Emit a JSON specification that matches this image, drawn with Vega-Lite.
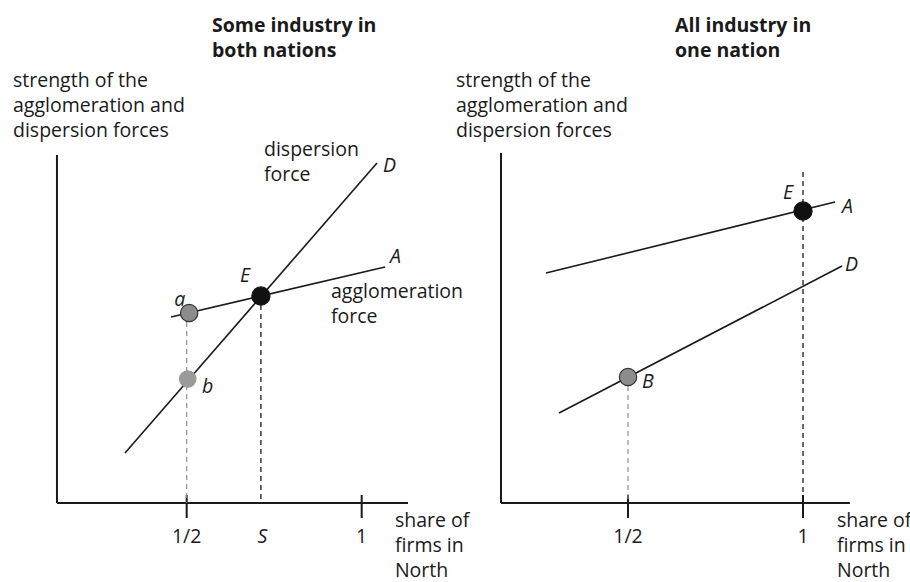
{
  "$schema": "https://vega.github.io/schema/vega-lite/v6.json",
  "padding": 0,
  "spacing": 0,
  "bounds": "flush",
  "background": "white",
  "config": {"view": {"stroke": null}, "text": {"font": "Open Sans", "fontSize": 19.5, "color": "#1a1a1a", "lineHeight": 25, "lineBreak": "\n", "baseline": "alphabetic"}},
  "datasets": {
    "L_axes": [
      {"x": 0.1294, "y": 0, "x2": 0.1294, "y2": 3.48},
      {"x": 0.1294, "y": 0, "x2": 1.1323, "y2": 0},
      {"x": 0.5, "y": 0.08, "x2": 0.5, "y2": -0.15},
      {"x": 1.0, "y": 0.08, "x2": 1.0, "y2": -0.15}
    ],
    "L_curves": [
      {"name": "D", "x": 0.3237, "y": 0.50, "x2": 1.0437, "y2": 3.40},
      {"name": "A", "x": 0.4554, "y": 1.86, "x2": 1.0666, "y2": 2.36}
    ],
    "L_dashBlack": [{"x": 0.712, "y": 2.07, "x2": 0.712, "y2": 0}],
    "L_dashGray": [{"x": 0.5, "y": 1.90, "x2": 0.5, "y2": 0}],
    "L_points": [
      {"label": "E", "role": "equilibrium", "x": 0.712, "y": 2.07},
      {"label": "a", "role": "outlined", "x": 0.507, "y": 1.90},
      {"label": "b", "role": "plain", "x": 0.503, "y": 1.24}
    ],
    "L_italic": [
      {"t": "D", "x": 1.0609, "y": 3.31},
      {"t": "A", "x": 1.0809, "y": 2.40},
      {"t": "E", "x": 0.6523, "y": 2.21},
      {"t": "a", "x": 0.4646, "y": 1.97},
      {"t": "b", "x": 0.5437, "y": 1.10},
      {"t": "S", "x": 0.702, "y": -0.40}
    ],
    "L_plain": [
      {"t": "dispersion\nforce", "x": 0.7209, "y": 3.47},
      {"t": "agglomeration\nforce", "x": 0.9123, "y": 2.05},
      {"t": "share of\nfirms in\nNorth", "x": 1.095, "y": -0.24},
      {"t": "strength of the\nagglomeration and\ndispersion forces", "x": 0.0037, "y": 4.16}
    ],
    "L_ticks": [
      {"t": "1/2", "x": 0.5, "y": -0.40},
      {"t": "1", "x": 1.0, "y": -0.40}
    ],
    "L_title": [{"t": "Some industry in\nboth nations", "x": 0.5723, "y": 4.71}],
    "R_axes": [
      {"x": 0.1371, "y": 0, "x2": 0.1371, "y2": 3.50},
      {"x": 0.1371, "y": 0, "x2": 1.134, "y2": 0},
      {"x": 0.5, "y": 0.08, "x2": 0.5, "y2": -0.15},
      {"x": 1.0, "y": 0.08, "x2": 1.0, "y2": -0.15}
    ],
    "R_curves": [
      {"name": "A", "x": 0.2657, "y": 2.30, "x2": 1.0914, "y2": 3.01},
      {"name": "D", "x": 0.3029, "y": 0.90, "x2": 1.1114, "y2": 2.37}
    ],
    "R_dashBlack": [{"x": 1.0, "y": 3.31, "x2": 1.0, "y2": 0}],
    "R_dashGray": [{"x": 0.5, "y": 1.26, "x2": 0.5, "y2": 0}],
    "R_points": [
      {"label": "E", "role": "equilibrium", "x": 1.0, "y": 2.92},
      {"label": "B", "role": "outlined", "x": 0.5, "y": 1.26}
    ],
    "R_italic": [
      {"t": "E", "x": 0.943, "y": 3.04},
      {"t": "A", "x": 1.1114, "y": 2.90},
      {"t": "D", "x": 1.12, "y": 2.32},
      {"t": "B", "x": 0.54, "y": 1.15}
    ],
    "R_plain": [
      {"t": "share of\nfirms in\nNorth", "x": 1.0971, "y": -0.24},
      {"t": "strength of the\nagglomeration and\ndispersion forces", "x": 0.0086, "y": 4.16}
    ],
    "R_ticks": [
      {"t": "1/2", "x": 0.5, "y": -0.40},
      {"t": "1", "x": 1.0, "y": -0.40}
    ],
    "R_title": [{"t": "All industry in\none nation", "x": 0.6343, "y": 4.71}]
  },
  "hconcat": [
    {
      "width": 455,
      "height": 582,
      "layer": [
        {"data": {"name": "L_axes"}, "mark": {"type": "rule", "strokeWidth": 2, "color": "#1a1a1a"},
         "encoding": {"x": {"field": "x", "type": "quantitative", "scale": {"domain": [-0.0334, 1.2666], "nice": false, "zero": false}, "axis": null},
                      "y": {"field": "y", "type": "quantitative", "scale": {"domain": [-0.79, 5.03], "nice": false, "zero": false}, "axis": null},
                      "x2": {"field": "x2"}, "y2": {"field": "y2"}}},
        {"data": {"name": "L_curves"}, "mark": {"type": "rule", "strokeWidth": 1.6, "color": "#1a1a1a"},
         "encoding": {"x": {"field": "x", "type": "quantitative", "scale": {"domain": [-0.0334, 1.2666], "nice": false, "zero": false}, "axis": null},
                      "y": {"field": "y", "type": "quantitative", "scale": {"domain": [-0.79, 5.03], "nice": false, "zero": false}, "axis": null},
                      "x2": {"field": "x2"}, "y2": {"field": "y2"}}},
        {"data": {"name": "L_dashBlack"}, "mark": {"type": "rule", "strokeWidth": 1.3, "color": "#1a1a1a", "strokeDash": [5, 4]},
         "encoding": {"x": {"field": "x", "type": "quantitative", "scale": {"domain": [-0.0334, 1.2666], "nice": false, "zero": false}, "axis": null},
                      "y": {"field": "y", "type": "quantitative", "scale": {"domain": [-0.79, 5.03], "nice": false, "zero": false}, "axis": null},
                      "x2": {"field": "x2"}, "y2": {"field": "y2"}}},
        {"data": {"name": "L_dashGray"}, "mark": {"type": "rule", "strokeWidth": 1.2, "color": "#8f8f8f", "strokeDash": [5, 4]},
         "encoding": {"x": {"field": "x", "type": "quantitative", "scale": {"domain": [-0.0334, 1.2666], "nice": false, "zero": false}, "axis": null},
                      "y": {"field": "y", "type": "quantitative", "scale": {"domain": [-0.79, 5.03], "nice": false, "zero": false}, "axis": null},
                      "x2": {"field": "x2"}, "y2": {"field": "y2"}}},
        {"data": {"name": "L_points"}, "mark": {"type": "point", "filled": true, "opacity": 1, "strokeWidth": 1.2, "strokeOpacity": 1},
         "encoding": {"x": {"field": "x", "type": "quantitative", "scale": {"domain": [-0.0334, 1.2666], "nice": false, "zero": false}, "axis": null},
                      "y": {"field": "y", "type": "quantitative", "scale": {"domain": [-0.79, 5.03], "nice": false, "zero": false}, "axis": null},
                      "fill": {"field": "role", "type": "nominal", "scale": {"domain": ["equilibrium", "outlined", "plain"], "range": ["#111111", "#8c8c8c", "#9a9a9a"]}, "legend": null},
                      "stroke": {"field": "role", "type": "nominal", "scale": {"domain": ["equilibrium", "outlined", "plain"], "range": ["#111111", "#333333", "#9a9a9a"]}, "legend": null},
                      "size": {"field": "role", "type": "nominal", "scale": {"domain": ["equilibrium", "outlined", "plain"], "range": [330, 270, 260]}, "legend": null}}},
        {"data": {"name": "L_italic"}, "mark": {"type": "text", "fontStyle": "italic", "align": "left"},
         "encoding": {"x": {"field": "x", "type": "quantitative", "scale": {"domain": [-0.0334, 1.2666], "nice": false, "zero": false}, "axis": null},
                      "y": {"field": "y", "type": "quantitative", "scale": {"domain": [-0.79, 5.03], "nice": false, "zero": false}, "axis": null},
                      "text": {"field": "t"}}},
        {"data": {"name": "L_plain"}, "mark": {"type": "text", "align": "left"},
         "encoding": {"x": {"field": "x", "type": "quantitative", "scale": {"domain": [-0.0334, 1.2666], "nice": false, "zero": false}, "axis": null},
                      "y": {"field": "y", "type": "quantitative", "scale": {"domain": [-0.79, 5.03], "nice": false, "zero": false}, "axis": null},
                      "text": {"field": "t"}}},
        {"data": {"name": "L_ticks"}, "mark": {"type": "text", "align": "center"},
         "encoding": {"x": {"field": "x", "type": "quantitative", "scale": {"domain": [-0.0334, 1.2666], "nice": false, "zero": false}, "axis": null},
                      "y": {"field": "y", "type": "quantitative", "scale": {"domain": [-0.79, 5.03], "nice": false, "zero": false}, "axis": null},
                      "text": {"field": "t"}}},
        {"data": {"name": "L_title"}, "mark": {"type": "text", "align": "left", "fontWeight": "bold"},
         "encoding": {"x": {"field": "x", "type": "quantitative", "scale": {"domain": [-0.0334, 1.2666], "nice": false, "zero": false}, "axis": null},
                      "y": {"field": "y", "type": "quantitative", "scale": {"domain": [-0.79, 5.03], "nice": false, "zero": false}, "axis": null},
                      "text": {"field": "t"}}}
      ]
    },
    {
      "width": 455,
      "height": 582,
      "layer": [
        {"data": {"name": "R_axes"}, "mark": {"type": "rule", "strokeWidth": 2, "color": "#1a1a1a"},
         "encoding": {"x": {"field": "x", "type": "quantitative", "scale": {"domain": [0.0057, 1.3057], "nice": false, "zero": false}, "axis": null},
                      "y": {"field": "y", "type": "quantitative", "scale": {"domain": [-0.79, 5.03], "nice": false, "zero": false}, "axis": null},
                      "x2": {"field": "x2"}, "y2": {"field": "y2"}}},
        {"data": {"name": "R_curves"}, "mark": {"type": "rule", "strokeWidth": 1.6, "color": "#1a1a1a"},
         "encoding": {"x": {"field": "x", "type": "quantitative", "scale": {"domain": [0.0057, 1.3057], "nice": false, "zero": false}, "axis": null},
                      "y": {"field": "y", "type": "quantitative", "scale": {"domain": [-0.79, 5.03], "nice": false, "zero": false}, "axis": null},
                      "x2": {"field": "x2"}, "y2": {"field": "y2"}}},
        {"data": {"name": "R_dashBlack"}, "mark": {"type": "rule", "strokeWidth": 1.3, "color": "#1a1a1a", "strokeDash": [5, 4]},
         "encoding": {"x": {"field": "x", "type": "quantitative", "scale": {"domain": [0.0057, 1.3057], "nice": false, "zero": false}, "axis": null},
                      "y": {"field": "y", "type": "quantitative", "scale": {"domain": [-0.79, 5.03], "nice": false, "zero": false}, "axis": null},
                      "x2": {"field": "x2"}, "y2": {"field": "y2"}}},
        {"data": {"name": "R_dashGray"}, "mark": {"type": "rule", "strokeWidth": 1.2, "color": "#8f8f8f", "strokeDash": [5, 4]},
         "encoding": {"x": {"field": "x", "type": "quantitative", "scale": {"domain": [0.0057, 1.3057], "nice": false, "zero": false}, "axis": null},
                      "y": {"field": "y", "type": "quantitative", "scale": {"domain": [-0.79, 5.03], "nice": false, "zero": false}, "axis": null},
                      "x2": {"field": "x2"}, "y2": {"field": "y2"}}},
        {"data": {"name": "R_points"}, "mark": {"type": "point", "filled": true, "opacity": 1, "strokeWidth": 1.2, "strokeOpacity": 1},
         "encoding": {"x": {"field": "x", "type": "quantitative", "scale": {"domain": [0.0057, 1.3057], "nice": false, "zero": false}, "axis": null},
                      "y": {"field": "y", "type": "quantitative", "scale": {"domain": [-0.79, 5.03], "nice": false, "zero": false}, "axis": null},
                      "fill": {"field": "role", "type": "nominal", "scale": {"domain": ["equilibrium", "outlined", "plain"], "range": ["#111111", "#8c8c8c", "#9a9a9a"]}, "legend": null},
                      "stroke": {"field": "role", "type": "nominal", "scale": {"domain": ["equilibrium", "outlined", "plain"], "range": ["#111111", "#333333", "#9a9a9a"]}, "legend": null},
                      "size": {"field": "role", "type": "nominal", "scale": {"domain": ["equilibrium", "outlined", "plain"], "range": [330, 270, 260]}, "legend": null}}},
        {"data": {"name": "R_italic"}, "mark": {"type": "text", "fontStyle": "italic", "align": "left"},
         "encoding": {"x": {"field": "x", "type": "quantitative", "scale": {"domain": [0.0057, 1.3057], "nice": false, "zero": false}, "axis": null},
                      "y": {"field": "y", "type": "quantitative", "scale": {"domain": [-0.79, 5.03], "nice": false, "zero": false}, "axis": null},
                      "text": {"field": "t"}}},
        {"data": {"name": "R_plain"}, "mark": {"type": "text", "align": "left"},
         "encoding": {"x": {"field": "x", "type": "quantitative", "scale": {"domain": [0.0057, 1.3057], "nice": false, "zero": false}, "axis": null},
                      "y": {"field": "y", "type": "quantitative", "scale": {"domain": [-0.79, 5.03], "nice": false, "zero": false}, "axis": null},
                      "text": {"field": "t"}}},
        {"data": {"name": "R_ticks"}, "mark": {"type": "text", "align": "center"},
         "encoding": {"x": {"field": "x", "type": "quantitative", "scale": {"domain": [0.0057, 1.3057], "nice": false, "zero": false}, "axis": null},
                      "y": {"field": "y", "type": "quantitative", "scale": {"domain": [-0.79, 5.03], "nice": false, "zero": false}, "axis": null},
                      "text": {"field": "t"}}},
        {"data": {"name": "R_title"}, "mark": {"type": "text", "align": "left", "fontWeight": "bold"},
         "encoding": {"x": {"field": "x", "type": "quantitative", "scale": {"domain": [0.0057, 1.3057], "nice": false, "zero": false}, "axis": null},
                      "y": {"field": "y", "type": "quantitative", "scale": {"domain": [-0.79, 5.03], "nice": false, "zero": false}, "axis": null},
                      "text": {"field": "t"}}}
      ]
    }
  ]
}
